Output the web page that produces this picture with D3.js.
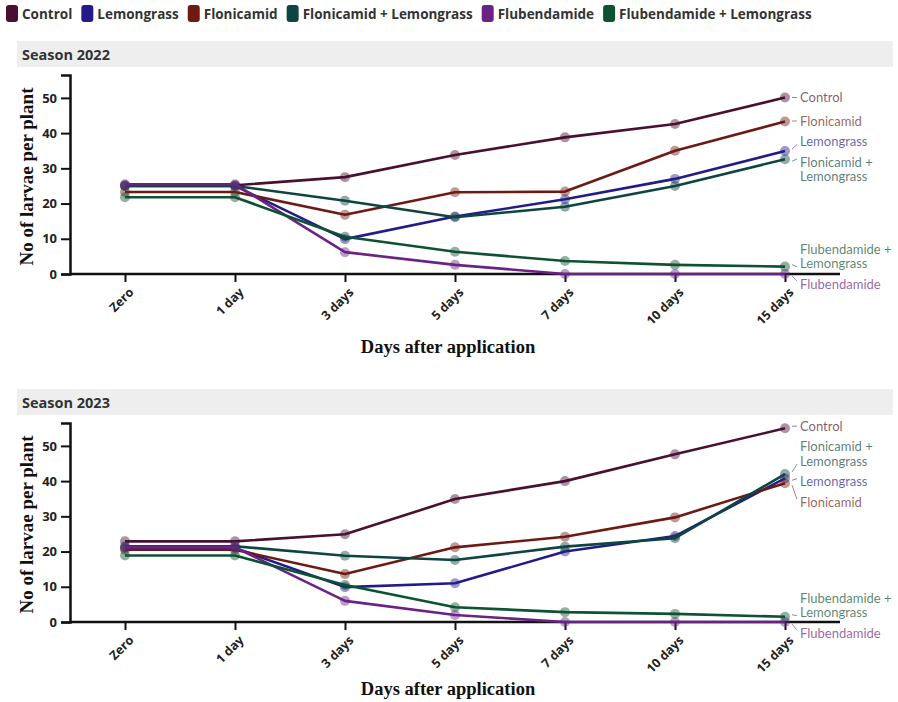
<!DOCTYPE html>
<html>
<head>
<meta charset="utf-8">
<script src="https://cdnjs.cloudflare.com/ajax/libs/d3/7.8.5/d3.min.js"></script>
<style>
  body { margin: 0; background: #fff; }
  svg { display: block; }
</style>
</head>
<body>
<script>
'use strict';

// categories and series
const days = ["Zero", "1 day", "3 days", "5 days", "7 days", "10 days", "15 days"];
const treatments = ["Control", "Lemongrass", "Flonicamid", "Flonicamid + Lemongrass", "Flubendamide", "Flubendamide + Lemongrass"];
const endLabels = [["Control"], ["Lemongrass"], ["Flonicamid"], ["Flonicamid +", "Lemongrass"], ["Flubendamide"], ["Flubendamide +", "Lemongrass"]];
const colors = ["#4a1030", "#231c88", "#6e1a14", "#0e4541", "#6a2385", "#0d5232"];
const yTicks = [0, 10, 20, 30, 40, 50];

// season 2022 values (larvae per plant)
const control2022 = [25.2, 25.2, 27.5, 33.8, 38.8, 42.6, 50.1];
const lemongrass2022 = [25.0, 25.0, 9.9, 16.3, 21.2, 27.0, 34.9];
const flonicamid2022 = [23.3, 23.3, 16.8, 23.2, 23.4, 35.0, 43.3];
const flonLem2022 = [25.0, 25.0, 20.8, 16.1, 19.1, 25.0, 32.6];
const flub2022 = [25.5, 25.5, 6.2, 2.6, 0, 0, 0];
const flubLem2022 = [21.8, 21.8, 10.6, 6.3, 3.7, 2.6, 2.1];

// season 2023 values
const control2023 = [22.9, 22.9, 24.9, 34.9, 40.0, 47.6, 55.0];
const lemongrass2023 = [21.0, 21.0, 9.9, 11.0, 20.0, 24.4, 40.8];
const flonicamid2023 = [20.5, 20.5, 13.6, 21.2, 24.2, 29.7, 39.4];
const flonLem2023 = [21.5, 21.5, 18.8, 17.6, 21.4, 23.8, 42.0];
const flub2023 = [21.2, 21.2, 6.0, 2.0, 0, 0, 0];
const flubLem2023 = [18.9, 18.9, 10.5, 4.2, 2.8, 2.3, 1.5];

const seasons = [
  { title: "Season 2022", series: [control2022, lemongrass2022, flonicamid2022, flonLem2022, flub2022, flubLem2022] },
  { title: "Season 2023", series: [control2023, lemongrass2023, flonicamid2023, flonLem2023, flub2023, flubLem2023] }
];

const W = 898, H = 702;
const svg = d3.select("body").append("svg").attr("width", W).attr("height", H);

// legend across the top
(function drawLegend() {
  let x = 6;
  treatments.forEach((t, i) => {
    svg.append("rect")
      .attr("x", x).attr("y", 5).attr("width", 12).attr("height", 17)
      .attr("rx", 3).attr("fill", colors[i]);
    const txt = svg.append("text")
      .attr("x", x + 16).attr("y", 19)
      .attr("font-family", "'Open Sans', sans-serif")
      .attr("font-weight", 700).attr("font-size", 13.5)
      .attr("fill", "#333")
      .text(t);
    x += 16 + txt.node().getComputedTextLength() + 9;
  });
})();

const xAxisStart = 70, xAxisEnd = 840;
const x = d3.scalePoint().domain(days).range([125, 785]);

function drawPanel(season, top, titleGap) {
  const g = svg.append("g").attr("transform", `translate(0, ${top})`);

  // header band
  g.append("rect").attr("x", 17).attr("y", 0).attr("width", 876).attr("height", 26).attr("fill", "#eeeeee");
  g.append("text")
    .attr("x", 22).attr("y", 19)
    .attr("font-family", "'Open Sans', sans-serif")
    .attr("font-weight", 700).attr("font-size", 14.5)
    .attr("fill", "#333")
    .text(season.title);

  const y = d3.scaleLinear().domain([0, 56.5]).range([233, 34]);

  // y axis
  const yAxis = d3.axisLeft(y).tickValues(yTicks).tickSize(9).tickPadding(4);
  const ya = g.append("g").attr("transform", `translate(${xAxisStart}, 0)`).call(yAxis);
  ya.select(".domain").attr("stroke", "#111").attr("stroke-width", 2.5);
  ya.selectAll(".tick line").attr("stroke", "#111").attr("stroke-width", 2);
  ya.selectAll(".tick text")
    .attr("font-family", "'Open Sans', sans-serif")
    .attr("font-weight", 700).attr("font-size", 13).attr("fill", "#222");

  // x axis
  const xa = g.append("g").attr("transform", `translate(0, ${y(0)})`);
  xa.append("line")
    .attr("x1", xAxisStart).attr("x2", xAxisEnd)
    .attr("stroke", "#111").attr("stroke-width", 2.5);
  const xAxis = d3.axisBottom(x).tickSize(8).tickSizeOuter(0);
  xa.call(xAxis);
  xa.select(".domain").remove();
  xa.selectAll(".tick line").attr("stroke", "#111").attr("stroke-width", 2);
  xa.selectAll(".tick text")
    .attr("font-family", "'Open Sans', sans-serif")
    .attr("font-weight", 700).attr("font-size", 12.5)
    .attr("fill", "#222")
    .attr("text-anchor", "end")
    .attr("x", 0).attr("y", 0).attr("dy", 0)
    .attr("transform", "translate(9, 19) rotate(-45)");

  // axis titles
  g.append("text")
    .attr("x", 448).attr("y", y(0) + titleGap)
    .attr("text-anchor", "middle")
    .attr("font-family", "'Liberation Serif', 'Times New Roman', serif")
    .attr("font-weight", 700).attr("font-size", 18.5)
    .attr("fill", "#111")
    .text("Days after application");
  g.append("text")
    .attr("transform", `translate(33, ${(y(0) + y(56.5)) / 2 + 2}) rotate(-90)`)
    .attr("text-anchor", "middle")
    .attr("font-family", "'Liberation Serif', 'Times New Roman', serif")
    .attr("font-weight", 700).attr("font-size", 19)
    .attr("fill", "#111")
    .text("No of larvae per plant");

  const line = d3.line().x((d, i) => x(days[i])).y(d => y(d));

  season.series.forEach((vals, i) => {
    g.append("path")
      .datum(vals)
      .attr("d", line)
      .attr("fill", "none")
      .attr("stroke", colors[i])
      .attr("stroke-width", 2.6)
      .attr("stroke-linejoin", "round");
    g.selectAll(null)
      .data(vals)
      .enter()
      .append("circle")
      .attr("cx", (d, j) => x(days[j]))
      .attr("cy", d => y(d))
      .attr("r", 5)
      .attr("fill", colors[i])
      .attr("fill-opacity", 0.45);
  });

  // end labels, pushed apart so they don't overlap
  const lineH = 14.5;
  const last = days[days.length - 1];
  let items = season.series.map((vals, i) => {
    const py = y(vals[vals.length - 1]);
    return { i: i, py: py, cy: py, h: endLabels[i].length * lineH + 6 };
  }).sort((a, b) => a.py - b.py);
  for (let k = 0; k < 200; k++) {
    for (let j = 1; j < items.length; j++) {
      const a = items[j - 1], b = items[j];
      const overlap = (a.cy + a.h / 2) - (b.cy - b.h / 2);
      if (overlap > 0) { a.cy -= overlap / 2; b.cy += overlap / 2; }
    }
  }
  const lx = x(last) + 15;
  items.forEach(it => {
    const c = colors[it.i];
    const lines = endLabels[it.i];
    const straight = Math.abs(it.cy - it.py) < 3;
    const half = (lines.length - 1) * lineH / 2;
    const down = it.cy > it.py;
    g.append("line")
      .attr("x1", x(last) + 7).attr("y1", straight ? it.cy : it.py + (down ? 2 : -2))
      .attr("x2", x(last) + 12).attr("y2", straight ? it.cy : it.cy + (down ? -half - 3 : half + 3))
      .attr("stroke", c).attr("stroke-opacity", 0.55).attr("stroke-width", 1);
    lines.forEach((s, k) => {
      g.append("text")
        .attr("x", lx)
        .attr("y", it.cy - half + k * lineH)
        .attr("dy", "0.35em")
        .attr("font-family", "Lato, sans-serif")
        .attr("font-size", 13)
        .attr("fill", c).attr("fill-opacity", 0.7)
        .text(s);
    });
  });
}

drawPanel(seasons[0], 41, 79);
drawPanel(seasons[1], 389, 73);
</script>
</body>
</html>
